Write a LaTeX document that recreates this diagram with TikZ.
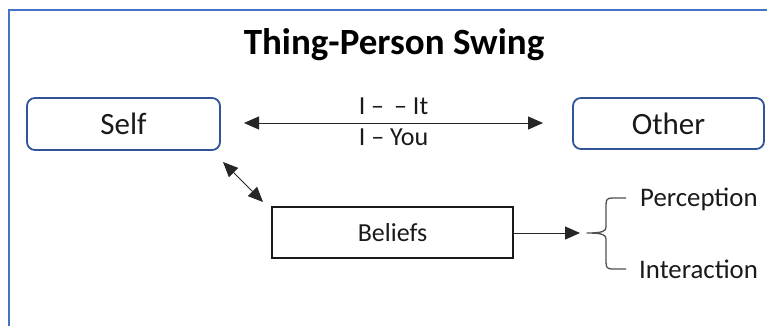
\documentclass[tikz,border=0pt]{standalone}
\usepackage{fontspec}
\setmainfont{Carlito}
\usetikzlibrary{arrows.meta}
\definecolor{framecol}{HTML}{4472C4}
\definecolor{boxcol}{HTML}{2F5597}
\definecolor{txt}{HTML}{1A1A1A}
\definecolor{bracecol}{HTML}{505050}
\tikzset{
  roundbox/.style={draw=boxcol, line width=1.8pt, rounded corners=8pt, text=txt,
    font=\fontsize{31}{36}\selectfont, inner sep=0pt},
  plainbox/.style={draw=black!90, line width=1.8pt, text=txt,
    font=\fontsize{26}{30}\selectfont, inner sep=0pt},
  lbl/.style={text=txt, font=\fontsize{26}{30}\selectfont, inner sep=0pt},
  sidelbl/.style={text=txt, font=\fontsize{26.8}{30}\selectfont, inner sep=0pt},
  arr/.style={draw=black!85, line width=1pt, -{Triangle[length=15pt,width=13pt]}},
  dblarr/.style={draw=black!85, line width=1pt, {Triangle[length=15pt,width=13pt]}-{Triangle[length=15pt,width=13pt]}},
}
\begin{document}
\begin{tikzpicture}[x=1pt,y=-1pt]
\useasboundingbox (0,0) rectangle (767,326);
\clip (0,0) rectangle (767,326);
\fill[white] (0,0) rectangle (767,326);
\draw[framecol, line width=1.8pt] (9,10) rectangle (800,360);

\node[anchor=base, text=black, font=\fontsize{37}{42}\selectfont\bfseries, inner sep=0pt] (title) at (394,55) {Thing-Person Swing};

\node[roundbox, minimum width=193pt, minimum height=52pt] (self) at (123.5,124) {Self};
\node[roundbox, minimum width=191pt, minimum height=51pt] (other) at (668.5,123.5) {Other};
\node[plainbox, minimum width=241pt, minimum height=51pt] (beliefs) at (392.5,232.5) {Beliefs};

\coordinate (la) at (244,123);
\coordinate (lb) at (543,123);
\draw[dblarr] (la) -- (lb);
\node[lbl, anchor=base] (itl) at (393.5,114) {I –\hspace{10pt}– It};
\node[lbl, anchor=base] (youl) at (393.5,145) {I – You};

\coordinate (da) at (223,162);
\coordinate (db) at (263,202);
\draw[dblarr] (da) -- (db);

\coordinate (bt) at (580,233);
\draw[arr] (beliefs.east |- bt) -- (bt);

\draw[bracecol, line width=1.3pt, line join=round]
  (626,198) -- (612,198) .. controls (607,198) and (606,200) .. (606,205)
  -- (606,227) .. controls (606,231) and (603,233) .. (587,233)
  .. controls (603,233) and (606,235) .. (606,239)
  -- (606,262) .. controls (606,267) and (607,269) .. (612,269) -- (626,269);

\node[sidelbl, anchor=base west] (perc) at (640,206) {Perception};
\node[sidelbl, anchor=base west] (inter) at (639,278) {Interaction};
\end{tikzpicture}
\end{document}
